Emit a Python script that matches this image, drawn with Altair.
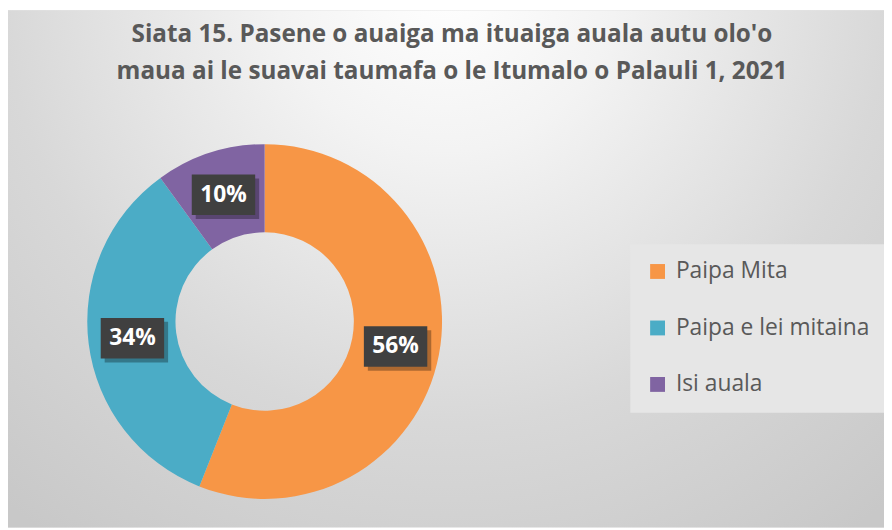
import altair as alt
import pandas as pd

# ---- data ----
categories = ["Paipa Mita", "Paipa e lei mitaina", "Isi auala"]
values = [56, 34, 10]
colors = ["#F79646", "#4BACC6", "#8064A2"]
title_lines = [
    "Siata 15. Pasene o auaiga ma ituaiga auala autu olo'o",
    "maua ai le suavai taumafa o le Itumalo o Palauli 1, 2021",
]

# ---- layout constants ----
W, H = 884, 522
CX, CY = 259, 314
R_OUT, R_IN = 179, 90
R_LAB = (R_OUT + R_IN) / 2
BOX_W, BOX_H = 64, 41
FONT = "Open Sans"
TXT = "#595959"

df = pd.DataFrame({"category": categories, "value": values, "order": list(range(len(categories)))})

bg = alt.Chart(alt.Data(values=[{"a": 1}])).mark_rect(
    fill={
        "gradient": "radial",
        "x1": 0.5, "y1": 0.17, "r1": 0,
        "x2": 0.5, "y2": 0.17, "r2": 0.78,
        "stops": [
            {"offset": 0, "color": "#ffffff"},
            {"offset": 0.25, "color": "#f3f3f3"},
            {"offset": 0.65, "color": "#d8d8d8"},
            {"offset": 1, "color": "#c8c8c8"},
        ],
    }
).encode(x=alt.value(0), x2=alt.value(W), y=alt.value(0), y2=alt.value(H))

title = alt.Chart(alt.Data(values=[{"t": "\n".join(title_lines)}])).mark_text(
    font=FONT, fontWeight="bold", fontSize=24.5, color=TXT,
    lineBreak="\n", lineHeight=37, baseline="top", align="center",
).encode(text="t:N", x=alt.value(448), y=alt.value(13))

arc = alt.Chart(df).mark_arc(innerRadius=R_IN, outerRadius=R_OUT).encode(
    theta=alt.Theta("value:Q", stack=True),
    color=alt.Color(
        "category:N",
        sort=categories,
        scale=alt.Scale(domain=categories, range=colors),
        legend=alt.Legend(
            title=None, orient="none", legendX=628, legendY=236,
            fillColor="#e6e6e6", padding=16,
            labelFont=FONT, labelFontSize=23, labelColor=TXT,
            symbolType="square", symbolSize=225, symbolStrokeWidth=0,
            rowPadding=33, labelOffset=7, labelLimit=400,
        ),
    ),
    order=alt.Order("order:Q"),
    x=alt.value(CX),
    y=alt.value(CY),
)

lab = (
    alt.Chart(df)
    .transform_joinaggregate(total="sum(value)")
    .transform_window(cum="sum(value)", sort=[alt.SortField("order")], frame=[None, 0])
    .transform_calculate(
        mid="(datum.cum - datum.value/2)/datum.total*2*PI",
        label="datum.value + '%'",
    )
    .transform_calculate(
        px=f"{CX} + {R_LAB}*sin(datum.mid)",
        py=f"{CY} - {R_LAB}*cos(datum.mid)",
    )
    .transform_calculate(
        bx1=f"datum.px - {BOX_W/2}", bx2=f"datum.px + {BOX_W/2}",
        by1=f"datum.py - {BOX_H/2}", by2=f"datum.py + {BOX_H/2}",
        sx1=f"datum.px - {BOX_W/2} + 4", sx2=f"datum.px + {BOX_W/2} + 4",
        sy1=f"datum.py - {BOX_H/2} + 4", sy2=f"datum.py + {BOX_H/2} + 4",
    )
)

shadow = lab.mark_rect(color="#000000", opacity=0.3).encode(
    x=alt.X("sx1:Q", scale=None, axis=None), x2="sx2:Q",
    y=alt.Y("sy1:Q", scale=None, axis=None), y2="sy2:Q",
)
box = lab.mark_rect(color="#404040").encode(
    x=alt.X("bx1:Q", scale=None, axis=None), x2="bx2:Q",
    y=alt.Y("by1:Q", scale=None, axis=None), y2="by2:Q",
)
txt = lab.mark_text(font=FONT, fontWeight="bold", fontSize=23, color="white", baseline="middle", align="center").encode(
    x=alt.X("px:Q", scale=None, axis=None),
    y=alt.Y("py:Q", scale=None, axis=None),
    text="label:N",
)

chart = alt.layer(bg, title, arc, shadow, box, txt).properties(
    width=W, height=H, padding=0,
    autosize=alt.AutoSizeParams(type="none"),
).configure_view(stroke=None)

chart.save("out.html", embed_options={"renderer": "svg", "actions": False})
